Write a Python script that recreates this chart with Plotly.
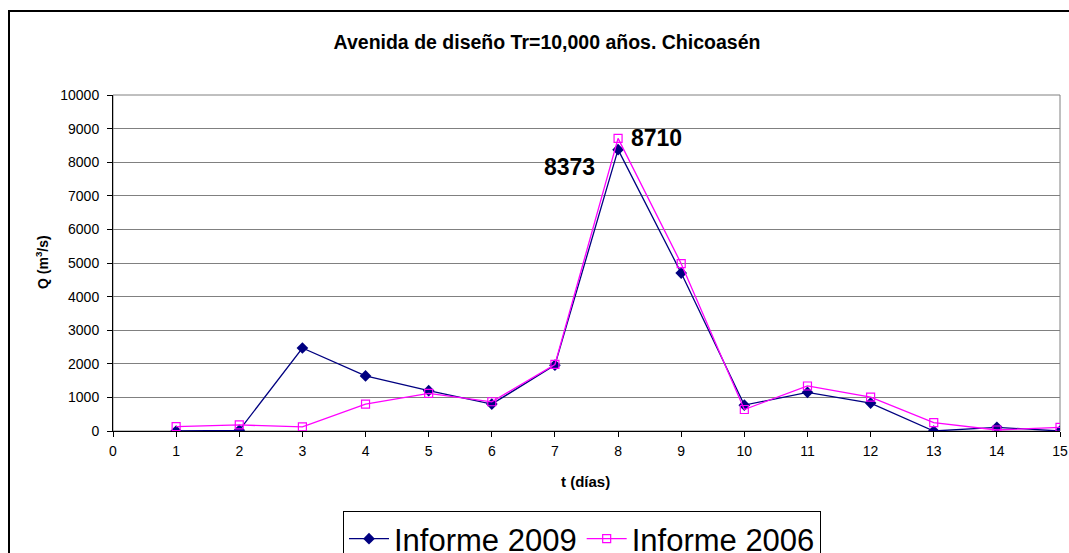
import plotly.graph_objects as go

# Design flood hydrographs, Tr = 10,000 years
dias = list(range(1, 16))
informe_2009 = [0, 20, 2470, 1640, 1200, 800, 1960, 8373, 4700, 770, 1150, 830, 0, 110, 0]
informe_2006 = [130, 180, 120, 800, 1120, 870, 1980, 8710, 4980, 640, 1340, 1010, 250, 30, 110]

x_ticks = list(range(0, 16))
y_ticks = list(range(0, 10001, 1000))

W, H = 1069, 553
L, R, T, B = 113, 1060, 95, 431  # plot area in pixels

FONT = "Arial, Liberation Sans, sans-serif"

fig = go.Figure()
fig.add_trace(go.Scatter(
    x=dias, y=informe_2009, name="Informe 2009", mode="lines+markers",
    line=dict(color="#000080", width=1.3),
    marker=dict(symbol="diamond", size=9, color="#000080"),
))
fig.add_trace(go.Scatter(
    x=dias, y=informe_2006, name="Informe 2006", mode="lines+markers",
    line=dict(color="#FF00FF", width=1.3),
    marker=dict(symbol="square-open", size=8, color="#FF00FF", line=dict(width=1.2)),
))

# peak value labels
i9 = informe_2009.index(max(informe_2009))
i6 = informe_2006.index(max(informe_2006))
fig.add_annotation(x=dias[i9], y=informe_2009[i9], text=f"<b>{informe_2009[i9]}</b>",
                   showarrow=False, xanchor="center", yanchor="middle",
                   xshift=-49, yshift=-17, font=dict(family=FONT, size=23, color="black"))
fig.add_annotation(x=dias[i6], y=informe_2006[i6], text=f"<b>{informe_2006[i6]}</b>",
                   showarrow=False, xanchor="center", yanchor="middle",
                   xshift=38, yshift=0, font=dict(family=FONT, size=23, color="black"))

def px_to_paper_x(px):
    return (px - L) / (R - L)

def px_to_paper_y(py):
    return (B - py) / (B - T)

# plot-area frame (grey) and outer chart frame (black)
fig.add_shape(type="rect", xref="paper", yref="paper", x0=0, x1=1, y0=0, y1=1,
              line=dict(color="#808080", width=1), layer="below")
fig.add_shape(type="rect", xref="paper", yref="paper",
              x0=px_to_paper_x(9), x1=px_to_paper_x(W + 20),
              y0=px_to_paper_y(H + 20), y1=px_to_paper_y(11),
              line=dict(color="black", width=2), layer="below")

# y-axis title placed beside the tick labels
fig.add_annotation(xref="paper", yref="paper", x=px_to_paper_x(42), y=px_to_paper_y(262),
                   text="<b>Q (m<sup>3</sup>/s)</b>", textangle=-90, showarrow=False,
                   xanchor="center", yanchor="middle",
                   font=dict(family=FONT, size=14, color="black"))
# x-axis title
fig.add_annotation(xref="paper", yref="paper", x=px_to_paper_x(585), y=px_to_paper_y(482),
                   text="<b>t (días)</b>", showarrow=False,
                   xanchor="center", yanchor="middle",
                   font=dict(family=FONT, size=15, color="black"))

fig.update_layout(
    width=W, height=H,
    margin=dict(l=L, r=W - R, t=T, b=H - B, autoexpand=False),
    paper_bgcolor="white", plot_bgcolor="white",
    font=dict(family=FONT, size=14, color="black"),
    title=dict(text="<b>Avenida de diseño Tr=10,000 años. Chicoasén</b>",
               x=547 / W, xanchor="center", xref="container",
               y=1 - 42 / H, yanchor="middle", yref="container",
               font=dict(family=FONT, size=19.5, color="black")),
    showlegend=True,
    legend=dict(orientation="h", x=px_to_paper_x(343), xanchor="left",
                y=px_to_paper_y(511), yanchor="top",
                bordercolor="black", borderwidth=1, bgcolor="white",
                font=dict(family=FONT, size=31, color="black"),
                itemwidth=40, tracegroupgap=0),
)

fig.update_xaxes(
    range=[0, 15], tickmode="array", tickvals=x_ticks, ticktext=[str(v) for v in x_ticks],
    showgrid=False, zeroline=False, showline=True, linecolor="black", linewidth=1,
    ticks="outside", ticklen=5, tickcolor="black", ticklabelstandoff=2,
    tickfont=dict(family=FONT, size=14, color="black"),
    automargin=False,
)
fig.update_yaxes(
    range=[0, 10000], tickmode="array", tickvals=y_ticks, ticktext=[str(v) for v in y_ticks],
    showgrid=True, gridcolor="#808080", gridwidth=1, zeroline=False,
    showline=True, linecolor="black", linewidth=1,
    ticks="outside", ticklen=5, tickcolor="black", ticklabelstandoff=5,
    tickfont=dict(family=FONT, size=14, color="black"),
    automargin=False,
)

fig.write_html("out.html")
